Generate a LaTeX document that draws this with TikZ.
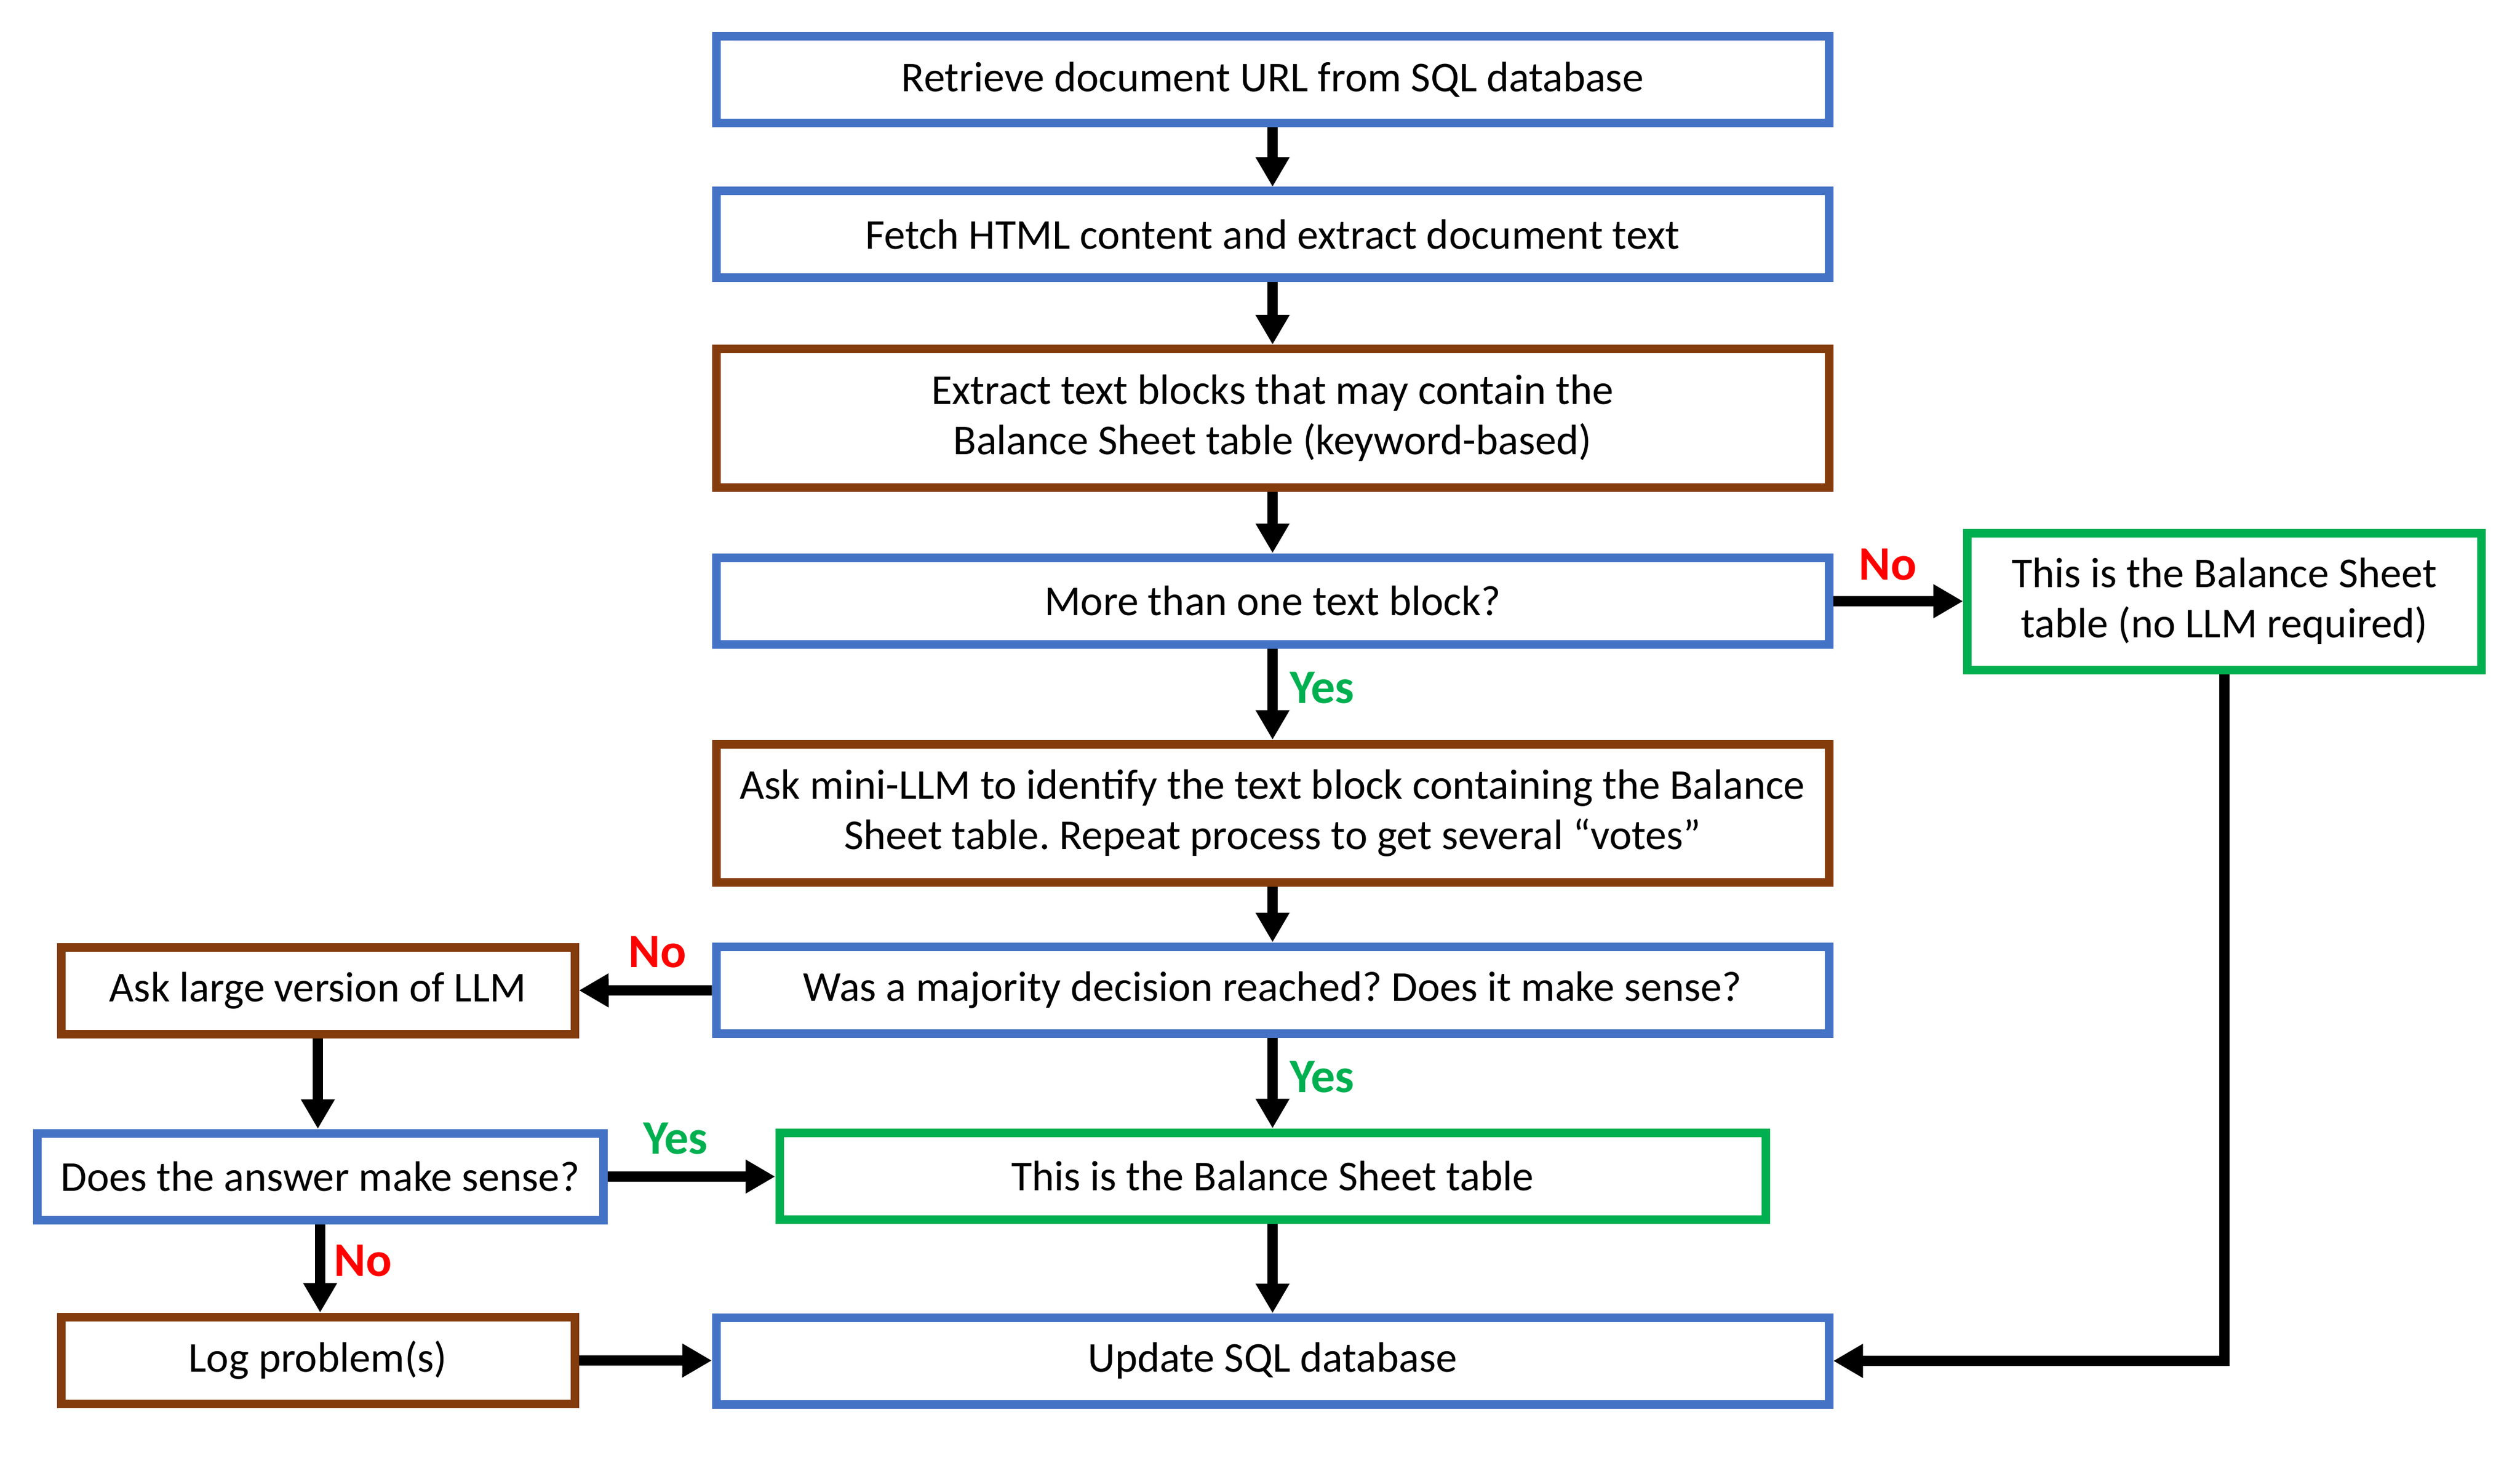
\documentclass[tikz,border=0pt]{standalone}
\usepackage{fontspec}
\setmainfont{Carlito}
\usetikzlibrary{arrows.meta}
\usetikzlibrary{calc}
\definecolor{boxblue}{HTML}{4472C4}
\definecolor{boxbrown}{HTML}{843C0C}
\definecolor{boxgreen}{HTML}{00B050}
\definecolor{nored}{HTML}{FF0000}

\tikzset{
  block/.style={draw, line width=1.5mm, inner sep=0pt, align=center,
    minimum width=19.5cm, minimum height=1.52cm,
    font=\fontsize{21.2}{25}\selectfont},
  blueblock/.style={block, draw=boxblue},
  brownblock/.style={block, draw=boxbrown},
  greenblock/.style={block, draw=boxgreen},
  flow/.style={line width=1.8mm, -{Triangle[length=5.2mm,width=5.6mm]}},
  yeslabel/.style={text=boxgreen, font=\fontsize{24}{28}\selectfont\bfseries},
  nolabel/.style={text=nored, font=\fontsize{24}{28}\selectfont\bfseries},
}

\begin{document}
\frenchspacing
\begin{tikzpicture}
      \path[use as bounding box] (0,0) rectangle (44.16,-25.64);

      % main column
      \node[blueblock]  (retrieve) at (22.3,-1.40)  {Retrieve document URL from SQL database};
      \node[blueblock]  (fetch)    at (22.3,-4.11)  {Fetch HTML content and extract document text};
      \node[brownblock, minimum height=2.43cm] (extract) at (22.3,-7.33)
        {Extract text blocks that may contain the\\Balance Sheet table (keyword-based)};
      \node[blueblock]  (morethan) at (22.3,-10.53) {More than one text block?};
      \node[brownblock, minimum height=2.42cm] (askmini) at (22.3,-14.25)
        {Ask mini-LLM to identify the text block containing the Balance\\Sheet table. Repeat process to get several “votes”};
      \node[blueblock]  (majority) at (22.3,-17.35) {Was a majority decision reached? Does it make sense?};
      \node[greenblock, minimum width=17.28cm] (found) at (22.3,-20.61) {This is the Balance Sheet table};
      \node[blueblock]  (update)   at (22.3,-23.85) {Update SQL database};

      % right branch
      \node[greenblock, minimum width=9.01cm, minimum height=2.40cm] (single) at (38.98,-10.54)
        {This is the Balance Sheet\\table (no LLM required)};

      % left branch
      \node[brownblock, minimum width=9.0cm]  (asklarge) at (5.57,-17.36) {Ask large version of LLM};
      \node[blueblock,  minimum width=9.92cm] (answer)   at (5.61,-20.62) {Does the answer make sense?};
      \node[brownblock, minimum width=9.0cm]  (logprob)  at (5.57,-23.84) {Log problem(s)};

      % connectors
      \draw[flow] (retrieve) -- (fetch);
      \draw[flow] (fetch) -- (extract);
      \draw[flow] (extract) -- (morethan);
      \draw[flow] (morethan) -- (askmini);
      \draw[flow] (askmini) -- (majority);
      \draw[flow] (majority) -- (found);
      \draw[flow] (found) -- (update);
      \draw[flow] (morethan) -- (single);
      \draw[flow] (single.south) |- (update.east);
      \draw[flow] (majority) -- (asklarge);
      \draw[flow] (asklarge.south) -- (asklarge.south |- answer.north);
      \draw[flow] (answer) -- (answer -| found.west);
      \draw[flow] (answer.south) -- (answer.south |- logprob.north);
      \draw[flow] (logprob) -- (update);

      % labels
      \node[nolabel]  (nosingle) at (33.08,-9.89)  {No};
      \node[yeslabel] (yesmulti) at (23.17,-12.05) {Yes};
      \node[nolabel]  (nolarge)  at (11.52,-16.68) {No};
      \node[yeslabel] (yesmaj)   at (23.17,-18.87) {Yes};
      \node[yeslabel] (yesans)   at (11.84,-19.95) {Yes};
      \node[nolabel]  (noans)    at (6.36,-22.09)  {No};
\end{tikzpicture}
\end{document}
